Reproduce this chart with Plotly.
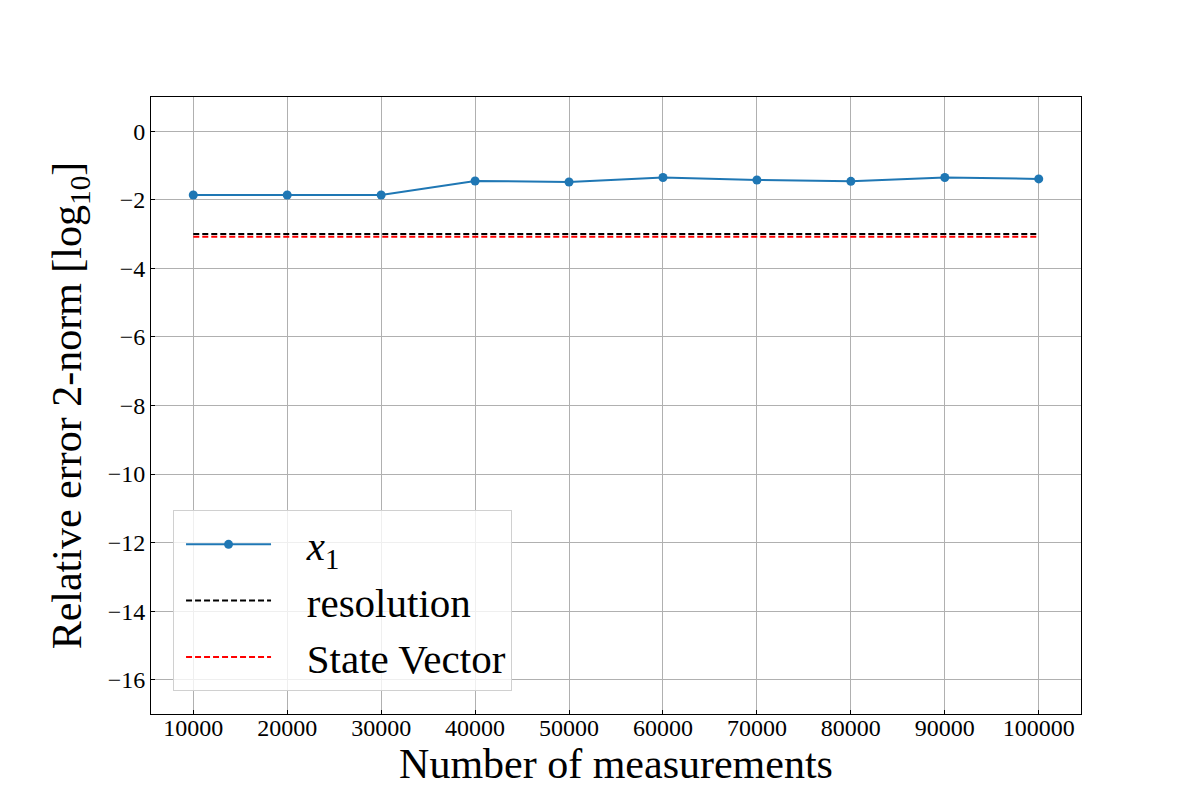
import plotly.graph_objects as go

# Data
measurements = [10000, 20000, 30000, 40000, 50000, 60000, 70000, 80000, 90000, 100000]
x1_error = [-1.86, -1.86, -1.86, -1.45, -1.48, -1.35, -1.42, -1.46, -1.35, -1.39]
resolution = [-3.0] * len(measurements)
state_vector = [-3.08] * len(measurements)

y_ticks = [0, -2, -4, -6, -8, -10, -12, -14, -16]

serif = "Liberation Serif, Times New Roman, serif"
pad = "\u00a0\u00a0\u00a0"  # gap between legend sample and its label

fig = go.Figure()
fig.add_trace(go.Scatter(
    x=measurements, y=x1_error, mode="lines+markers",
    name=pad + "<i>x</i><sub>1</sub>", legendgroup="a",
    line=dict(color="#1f77b4", width=2),
    marker=dict(color="#1f77b4", size=9),
))
fig.add_trace(go.Scatter(
    x=measurements, y=resolution, mode="lines",
    name=pad + "resolution", legendgroup="b",
    line=dict(color="black", width=2, dash="6px,3px"),
))
fig.add_trace(go.Scatter(
    x=measurements, y=state_vector, mode="lines",
    name=pad + "State Vector", legendgroup="c",
    line=dict(color="red", width=2, dash="6px,3px"),
))

axis_common = dict(
    showline=True, linecolor="black", linewidth=1, mirror=True,
    showgrid=True, gridcolor="#b0b0b0", gridwidth=1,
    ticks="inside", ticklen=4, tickcolor="black",
    tickfont=dict(family=serif, size=24, color="black"),
    zeroline=False,
)

fig.update_xaxes(
    range=[5500, 104500], tickvals=measurements,
    ticktext=[str(v) for v in measurements],
    ticklabelstandoff=-8,
    title=dict(text="Number of measurements", font=dict(family=serif, size=42, color="black"), standoff=4),
    **axis_common,
)
fig.update_yaxes(
    range=[-17, 1], tickvals=y_ticks,
    title=dict(text="Relative error 2-norm [log<sub>10</sub>]", font=dict(family=serif, size=42, color="black"), standoff=12),
    **axis_common,
)

fig.update_layout(
    width=1200, height=800,
    paper_bgcolor="white", plot_bgcolor="white",
    margin=dict(l=143, r=127, t=89, b=94),
    font=dict(family=serif, color="black"),
    legend=dict(
        x=0.0237, y=0.037, xanchor="left", yanchor="bottom",
        bgcolor="rgba(255,255,255,0.8)", bordercolor="#d0d0d0", borderwidth=1,
        font=dict(family=serif, size=41, color="black"),
        tracegroupgap=0, itemwidth=85, indentation=7,
    ),
    showlegend=True,
)

fig.write_html("out.html")
